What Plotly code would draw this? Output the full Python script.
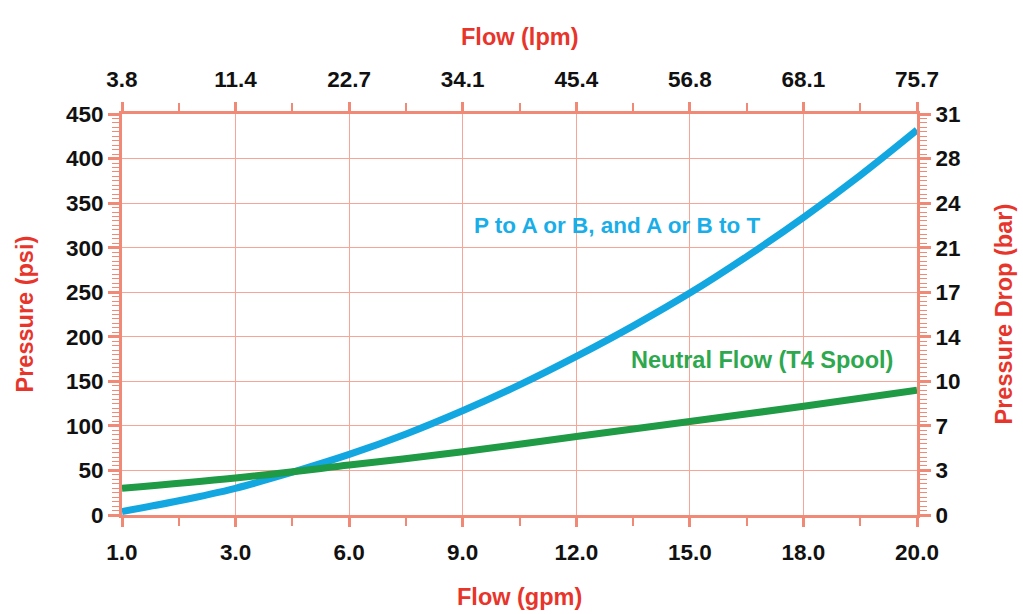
import plotly.graph_objects as go

# ---------------- data ----------------
gpm_tick_labels = ["1.0", "3.0", "6.0", "9.0", "12.0", "15.0", "18.0", "20.0"]
lpm_tick_labels = ["3.8", "11.4", "22.7", "34.1", "45.4", "56.8", "68.1", "75.7"]
psi_ticks = [0, 50, 100, 150, 200, 250, 300, 350, 400, 450]
bar_tick_labels = ["0", "3", "7", "10", "14", "17", "21", "24", "28", "31"]

blue_gpm = [1.0, 2.36, 3.71, 5.07, 6.43, 7.79, 9.14, 10.5, 11.86, 13.21, 14.57, 15.93, 17.29, 18.64, 20.0]
blue_psi = [4, 16, 30, 48, 68, 91, 117, 146, 178, 212, 249, 290, 334, 381, 432]

green_gpm = [1.0, 3.71, 6.43, 9.14, 11.86, 14.57, 17.29, 20.0]
green_psi = [30, 41.5, 56, 71, 88, 105, 122, 140]

blue_label = "P to A or B, and A or B to T"
green_label = "Neutral Flow (T4 Spool)"

# ---------------- style ----------------
X_MIN, X_MAX = 1.0, 20.0
Y_MIN, Y_MAX = 0, 450
n = len(gpm_tick_labels)
x_tickvals = [X_MIN + (X_MAX - X_MIN) * i / (n - 1) for i in range(n)]
x_minor = [(x_tickvals[i] + x_tickvals[i + 1]) / 2 for i in range(n - 1)]

FONT = "Liberation Sans, Arial, sans-serif"
AXIS_COL = "#F08A76"
GRID_COL = "#F6A596"
TITLE_COL = "#E8352B"
BLUE = "#12A7E0"
GREEN = "#1F9A45"

tickfont = dict(family=FONT, size=22.5, color="#111111", weight="bold")

fig = go.Figure()
fig.add_trace(go.Scatter(x=blue_gpm, y=blue_psi, mode="lines",
                         line=dict(color=BLUE, width=7, shape="spline", smoothing=1.0),
                         showlegend=False, hoverinfo="skip"))
fig.add_trace(go.Scatter(x=green_gpm, y=green_psi, mode="lines",
                         line=dict(color=GREEN, width=7, shape="spline", smoothing=1.0),
                         showlegend=False, hoverinfo="skip"))
# invisible trace to register top/right axes
fig.add_trace(go.Scatter(x=[], y=[], xaxis="x2", yaxis="y2", showlegend=False))

common_x = dict(range=[X_MIN, X_MAX], tickmode="array", tickvals=x_tickvals,
                showline=True, linecolor=AXIS_COL, linewidth=3,
                ticks="outside", ticklen=9, tickwidth=2.5, tickcolor=AXIS_COL,
                tickfont=tickfont, zeroline=False, ticklabelstandoff=6,
                minor=dict(tickmode="array", tickvals=x_minor, ticks="outside",
                           ticklen=8, tickwidth=1.5, tickcolor=AXIS_COL, showgrid=False))
common_y = dict(range=[Y_MIN, Y_MAX], tickmode="array", tickvals=psi_ticks,
                showline=True, linecolor=AXIS_COL, linewidth=3,
                ticks="outside", ticklen=11, tickwidth=2.5, tickcolor=AXIS_COL,
                tickfont=tickfont, zeroline=False,
                minor=dict(dtick=5, tick0=0, ticks="outside", ticklen=7,
                           tickwidth=1.3, tickcolor=AXIS_COL, showgrid=False))

fig.update_layout(
    width=1023, height=614,
    margin=dict(l=122, r=106, t=114, b=99, autoexpand=False),
    paper_bgcolor="white", plot_bgcolor="white",
    font=dict(family=FONT),
    xaxis=dict(common_x, ticktext=gpm_tick_labels, showgrid=True,
               gridcolor=GRID_COL, gridwidth=1.3, side="bottom"),
    xaxis2=dict(common_x, ticktext=lpm_tick_labels, showgrid=False,
                overlaying="x", side="top", anchor="y"),
    yaxis=dict(common_y, ticktext=[str(v) for v in psi_ticks], showgrid=True,
               gridcolor=GRID_COL, gridwidth=1.3, side="left"),
    yaxis2=dict(common_y, ticktext=bar_tick_labels, showgrid=False,
                overlaying="y", side="right", anchor="x"),
    showlegend=False,
)

title_font = dict(family=FONT, size=23.5, color=TITLE_COL, weight="bold")
common_ann = dict(xref="paper", yref="paper", showarrow=False, font=title_font,
                  xanchor="center", yanchor="middle")
fig.add_annotation(text="Flow (lpm)", x=0.5, y=1.0, yshift=77, **common_ann)
fig.add_annotation(text="Flow (gpm)", x=0.5, y=0.0, yshift=-82, **common_ann)
fig.add_annotation(text="Pressure (psi)", x=0.0, y=0.5, xshift=-98, textangle=-90, **common_ann)
fig.add_annotation(text="Pressure Drop (bar)", x=1.0, y=0.5, xshift=86, textangle=-90, **common_ann)

fig.add_annotation(text=blue_label, x=12.83, y=325, showarrow=False,
                   font=dict(family=FONT, size=22.5, color="#1AAEE8", weight="bold"))
fig.add_annotation(text=green_label, x=16.29, y=174, showarrow=False,
                   font=dict(family=FONT, size=23.5, color="#2EA84E", weight="bold"))

fig.write_html("out.html", config={"displayModeBar": False},
               post_script="document.body.style.margin='0';")
